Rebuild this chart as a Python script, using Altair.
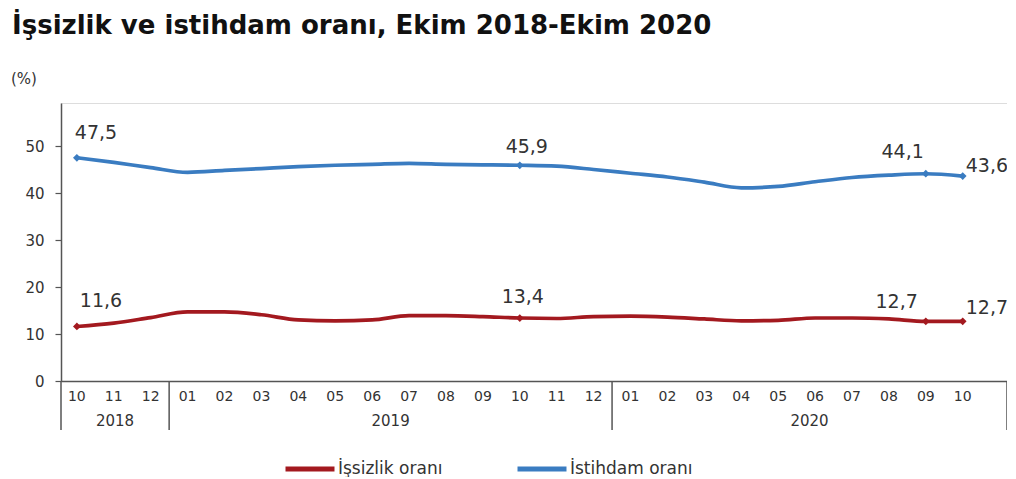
import altair as alt
import pandas as pd

# ---------------- data ----------------
months = ["10", "11", "12",
          "01", "02", "03", "04", "05", "06", "07", "08", "09", "10", "11", "12",
          "01", "02", "03", "04", "05", "06", "07", "08", "09", "10"]
month_years = ["2018"] * 3 + ["2019"] * 12 + ["2020"] * 10
years = ["2018", "2019", "2020"]

unemployment = [11.6, 12.3, 13.5, 14.7, 14.7, 14.1, 13.0, 12.8, 13.0, 13.9, 13.9, 13.7,
                13.4, 13.3, 13.7, 13.8, 13.6, 13.2, 12.8, 12.9, 13.4, 13.4, 13.2, 12.7, 12.7]
employment = [47.5, 46.5, 45.4, 44.4, 44.8, 45.2, 45.6, 45.9, 46.1, 46.3, 46.1, 46.0,
              45.9, 45.7, 45.0, 44.2, 43.4, 42.3, 41.1, 41.4, 42.4, 43.3, 43.8, 44.1, 43.6]
series_names = ["İşsizlik oranı", "İstihdam oranı"]
labeled_points = [0, 12, 23, 24]

title_text = "İşsizlik ve istihdam oranı, Ekim 2018-Ekim 2020"
unit_text = "(%)"

# ---------------- styles ----------------
RED = "#A3191F"
BLUE = "#3A7CC1"
AX = "#555555"
TXT = "#333333"
FONT = "DejaVu Sans"

W, H = 946, 278
n = len(months)
x_lo, x_hi = -0.43, 25.2

idx = list(range(n))
df = pd.DataFrame({
    "i": idx * 2,
    "v": unemployment + employment,
    "s": [series_names[0]] * n + [series_names[1]] * n,
})
df["lab"] = df["v"].map(lambda v: f"{v:.1f}".replace(".", ","))
month_df = pd.DataFrame({"i": idx, "m": months})

# year dividers: left axis, boundaries between years, right end
bounds = [x_lo]
for k in range(1, n):
    if month_years[k] != month_years[k - 1]:
        bounds.append(k - 0.5)
bounds.append(x_hi)
div_df = pd.DataFrame({"x": bounds})
year_df = pd.DataFrame({
    "year": years,
    "x": [(bounds[j] + bounds[j + 1]) / 2 for j in range(len(years))],
})

xscale = alt.Scale(domain=[x_lo, x_hi], nice=False, zero=False)
yscale = alt.Scale(domain=[0, 59.15], nice=False)
color = alt.Color("s:N", scale=alt.Scale(domain=series_names, range=[RED, BLUE]),
                  legend=alt.Legend(title=None, orient="none", legendX=222, legendY=339,
                                    direction="horizontal", symbolType="stroke",
                                    symbolStrokeWidth=5, symbolSize=2400,
                                    labelFontSize=17, labelColor=TXT, labelFont=FONT,
                                    labelOffset=1, columnPadding=64, labelLimit=300))

x_enc = alt.X("i:Q", scale=xscale,
              axis=alt.Axis(values=idx, labels=False, title=None, grid=False,
                            ticks=False, domainColor=AX, domainWidth=1.5))
y_enc = alt.Y("v:Q", scale=yscale,
              axis=alt.Axis(values=[0, 10, 20, 30, 40, 50], title=None, grid=False,
                            tickSize=6, tickColor=AX, tickWidth=1.2, labelPadding=11,
                            labelFontSize=15, labelColor=TXT, labelFont=FONT,
                            domainColor=AX, domainWidth=1.5))

base = alt.Chart(df)
lines = base.mark_line(strokeWidth=3.7, interpolate="monotone").encode(
    x=x_enc, y=y_enc, color=color, detail="s:N")
pts = base.transform_filter(
    alt.FieldOneOfPredicate(field="i", oneOf=labeled_points)
).mark_point(shape="diamond", filled=True, size=60, opacity=1).encode(
    x="i:Q", y="v:Q", color=alt.Color("s:N", legend=None))

# data label placement (style only)
placements = [
    (series_names[1], 0, "left", -2, -25),
    (series_names[1], 12, "center", 7, -18),
    (series_names[1], 23, "right", -2, -22),
    (series_names[1], 24, "left", 3, -10),
    (series_names[0], 0, "left", 3, -25),
    (series_names[0], 12, "center", 3, -21),
    (series_names[0], 23, "right", -8, -19),
    (series_names[0], 24, "left", 3, -13),
]
label_layers = []
for s, i, al, dx, dy in placements:
    label_layers.append(
        base.transform_filter((alt.datum.s == s) & (alt.datum.i == i))
        .mark_text(align=al, baseline="middle", dx=dx, dy=dy, fontSize=19,
                   font=FONT, color=TXT)
        .encode(x="i:Q", y="v:Q", text="lab:N")
    )

month_text = alt.Chart(month_df).mark_text(fontSize=14, font=FONT, color=TXT,
                                           baseline="middle").encode(
    x=alt.X("i:Q", scale=xscale), y=alt.value(H + 16), text="m:N")
dividers = alt.Chart(div_df).mark_rule(color=AX, strokeWidth=1.5).encode(
    x=alt.X("x:Q", scale=xscale), y=alt.value(H), y2=alt.value(H + 49))
year_text = alt.Chart(year_df).mark_text(fontSize=15, font=FONT, color=TXT,
                                         baseline="middle").encode(
    x=alt.X("x:Q", scale=xscale), y=alt.value(H + 40), text="year:N")

title = alt.Chart(pd.DataFrame({"t": [title_text]})).mark_text(
    align="left", baseline="alphabetic", fontSize=26, fontWeight="bold",
    font=FONT, color="#111111").encode(x=alt.value(-49), y=alt.value(-69), text="t:N")
unit = alt.Chart(pd.DataFrame({"t": [unit_text]})).mark_text(
    align="left", baseline="middle", fontSize=15, font=FONT, color=TXT
).encode(x=alt.value(-50), y=alt.value(-24), text="t:N")

chart = alt.layer(lines, pts, *label_layers, month_text, dividers, year_text,
                  title, unit).properties(
    width=W, height=H,
    padding={"left": 53, "top": 95, "right": 0, "bottom": 96},
    autosize=alt.AutoSizeParams(type="none"),
).configure_view(stroke=None).configure(background="white")

chart.save("out.html", embed_options={"renderer": "svg", "actions": False})
